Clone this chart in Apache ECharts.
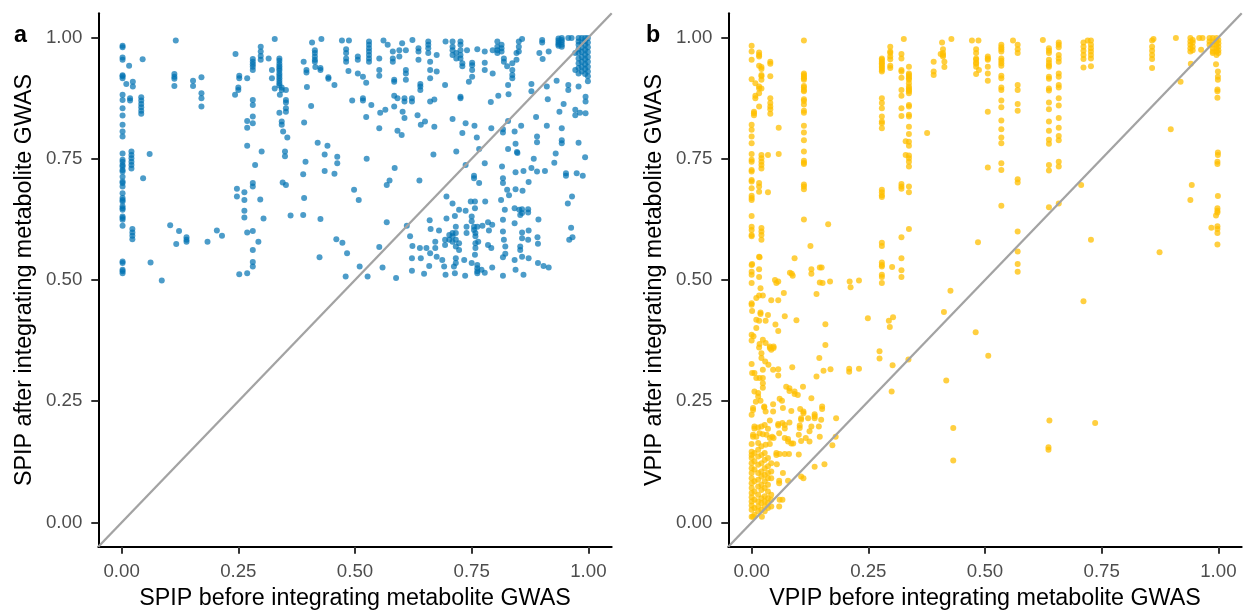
<!DOCTYPE html>
<html>
<head>
<meta charset="utf-8">
<script src="https://cdn.jsdelivr.net/npm/echarts@6/dist/echarts.min.js"></script>
<style>
html,body{margin:0;padding:0;background:#fff;}
#chart{width:1244px;height:610px;}
</style>
</head>
<body>
<div id="chart"></div>
<script>
// ---- axis setup ----
const axisRange = [-0.05, 1.05];
const tickValues = [0, 0.25, 0.5, 0.75, 1];
const tickLabels = ['0.00', '0.25', '0.50', '0.75', '1.00'];
const panelLetters = ['a', 'b'];
const xTitles = ['SPIP before integrating metabolite GWAS', 'VPIP before integrating metabolite GWAS'];
const yTitles = ['SPIP after integrating metabolite GWAS', 'VPIP after integrating metabolite GWAS'];
const diagonal = [[-0.05, -0.05], [1.05, 1.05]];

// ---- panel a: SPIP [before, after] ----
const spipZeroColumn = [
[0.002,0.983],[0.002,0.980],[0.002,0.959],[0.002,0.954],[0.002,0.922],[0.002,0.920],[0.002,0.916],[0.002,0.882],[0.002,0.871],[0.002,0.854],
[0.002,0.839],[0.002,0.820],[0.002,0.806],[0.002,0.796],[0.002,0.761],[0.002,0.748],[0.002,0.744],[0.002,0.737],[0.002,0.734],[0.002,0.727],
[0.002,0.724],[0.002,0.713],[0.002,0.703],[0.002,0.700],[0.002,0.693],[0.002,0.679],[0.002,0.669],[0.002,0.665],[0.002,0.662],[0.002,0.652],
[0.002,0.648],[0.002,0.645],[0.002,0.631],[0.002,0.628],[0.002,0.624],[0.002,0.612],[0.002,0.538],[0.002,0.535],[0.002,0.521],[0.002,0.518],[0.002,0.514]
];
const spipLeft = [
[0.010,0.904],[0.016,0.942],[0.024,0.909],[0.024,0.899],[0.018,0.875],[0.018,0.870],
[0.021,0.765],[0.021,0.758],[0.021,0.751],[0.021,0.744],[0.021,0.737],[0.021,0.730],
[0.023,0.605],[0.023,0.598],[0.023,0.591],[0.023,0.584],[0.046,0.710],
[0.042,0.877],[0.042,0.870],[0.042,0.863],[0.042,0.856],[0.042,0.849],[0.042,0.843],
[0.045,0.955],[0.060,0.760],[0.062,0.536],[0.086,0.499],
[0.116,0.994],[0.113,0.925],[0.113,0.919],[0.113,0.915],[0.113,0.900],
[0.104,0.613],[0.123,0.601],[0.117,0.574],[0.139,0.588],[0.139,0.583],[0.139,0.579],
[0.153,0.911],[0.153,0.900],[0.171,0.918],[0.171,0.885],[0.171,0.875],[0.171,0.858],
[0.184,0.579],[0.204,0.602],[0.215,0.591],
[0.244,0.966],[0.252,0.921],[0.252,0.916],[0.269,0.916],[0.250,0.897],[0.250,0.892],[0.243,0.882],
[0.281,0.871],[0.281,0.861],[0.281,0.837],[0.281,0.823],[0.269,0.828],[0.269,0.814],[0.269,0.777],
[0.300,0.765],[0.286,0.737],[0.281,0.700],[0.281,0.693],[0.247,0.688],[0.247,0.672],[0.263,0.681],[0.263,0.665],
[0.297,0.666],[0.263,0.643],[0.263,0.629],[0.304,0.627],[0.269,0.598],[0.281,0.601],[0.293,0.579],[0.281,0.562],
[0.281,0.537],[0.281,0.528],[0.269,0.514],[0.252,0.512],
[0.281,0.956],[0.281,0.950],[0.281,0.945],[0.281,0.940],[0.281,0.933],
[0.298,0.981],[0.298,0.971],[0.298,0.962],[0.298,0.954],[0.315,0.957],[0.328,0.997],[0.322,0.933],[0.322,0.916],[0.328,0.895],
[0.338,0.957],[0.338,0.952],[0.338,0.946],[0.338,0.941],[0.338,0.936],[0.338,0.932],[0.338,0.926],[0.338,0.921],
[0.338,0.916],[0.338,0.911],[0.338,0.906],[0.338,0.901],
[0.343,0.897],[0.343,0.892],[0.352,0.892],[0.352,0.871],[0.352,0.866],[0.352,0.854],[0.352,0.847],[0.338,0.845],
[0.343,0.827],[0.343,0.820],[0.346,0.806],[0.355,0.794],[0.350,0.765],[0.350,0.755],[0.345,0.701],[0.352,0.696],
[0.362,0.633],[0.339,0.882],
[0.390,0.950],[0.396,0.933],[0.396,0.928],[0.397,0.898],[0.406,0.859],[0.391,0.825],[0.408,0.990],
[0.414,0.974],[0.414,0.968],[0.414,0.961],[0.414,0.954],[0.414,0.950],[0.415,0.939],[0.428,0.997],[0.426,0.937],
[0.426,0.933],[0.443,0.918],[0.443,0.915],[0.456,0.902],[0.472,0.994],[0.487,0.994],
[0.481,0.976],[0.481,0.968],[0.481,0.957],[0.481,0.950],[0.486,0.931],[0.420,0.783],[0.441,0.777],[0.435,0.759],
[0.462,0.754],[0.462,0.741],[0.394,0.744],[0.389,0.718],[0.435,0.725],[0.456,0.719],
[0.391,0.669],[0.389,0.634],[0.426,0.626],[0.460,0.584],[0.473,0.577],[0.483,0.555],[0.424,0.547],[0.480,0.507]
];
const spipRightTop = [
[0.506,0.961],[0.506,0.954],[0.506,0.926],[0.517,0.919],[0.524,0.907],
[0.530,0.992],[0.530,0.985],[0.530,0.978],[0.530,0.971],[0.530,0.964],[0.530,0.957],[0.530,0.950],
[0.552,0.957],[0.552,0.933],[0.552,0.921],[0.561,0.994],[0.570,0.985],[0.581,0.971],[0.581,0.957],[0.581,0.950],
[0.584,0.913],[0.584,0.909],[0.595,0.974],[0.595,0.961],[0.601,0.988],[0.609,0.974],[0.609,0.933],[0.609,0.926],
[0.609,0.913],[0.623,0.995],[0.636,0.978],[0.636,0.971],[0.636,0.954],[0.640,0.904],[0.640,0.899],[0.640,0.892],
[0.657,0.992],[0.657,0.985],[0.657,0.978],[0.657,0.968],[0.661,0.950],[0.661,0.933],[0.661,0.916],[0.675,0.964],
[0.675,0.930],[0.694,0.992],[0.693,0.902],
[0.709,0.992],[0.709,0.981],[0.709,0.974],[0.709,0.964],[0.717,0.968],[0.717,0.957],[0.726,0.992],[0.726,0.985],
[0.726,0.974],[0.726,0.964],[0.726,0.957],[0.730,0.947],[0.730,0.941],[0.740,0.974],[0.744,0.909],[0.751,0.948],
[0.751,0.943],[0.751,0.933],[0.751,0.919],[0.762,0.976],[0.778,0.971],[0.778,0.948],[0.778,0.933],[0.795,0.974],
[0.795,0.926],[0.805,0.992],[0.805,0.981],[0.805,0.974],[0.805,0.968],[0.814,0.985],[0.814,0.978],[0.814,0.971],
[0.819,0.957],[0.819,0.950],[0.826,0.941],[0.837,0.947],[0.837,0.933],[0.837,0.923],[0.837,0.916],[0.846,0.968],
[0.846,0.954],[0.851,0.992],[0.851,0.981],[0.851,0.971],[0.858,0.997],[0.878,0.904],[0.878,0.889],[0.895,0.968],
[0.901,0.995],[0.901,0.990],[0.902,0.956],[0.915,0.971],[0.911,0.899],[0.932,0.911],
[0.936,0.998],[0.936,0.994],[0.936,0.990],[0.936,0.986],[0.936,0.983],[0.943,0.999],[0.943,0.995],[0.943,0.991],
[0.943,0.985],[0.943,0.981],[0.957,0.999],[0.964,0.999],[0.972,0.968],[0.972,0.933],
[0.979,0.999],[0.979,0.992],[0.979,0.985],[0.979,0.976],[0.979,0.968],[0.979,0.957],[0.979,0.947],[0.979,0.937],[0.979,0.926],
[0.986,0.999],[0.986,0.990],[0.986,0.980],[0.986,0.970],[0.986,0.960],[0.986,0.950],[0.986,0.940],[0.986,0.930],
[0.993,0.999],[0.993,0.993],[0.993,0.985],[0.993,0.975],[0.993,0.965],[0.993,0.955],[0.993,0.945],[0.993,0.935],[0.993,0.925],
[0.999,0.999],[0.999,0.990],[0.999,0.980],[0.999,0.970],[0.999,0.960],[0.999,0.950],[0.999,0.940],[0.999,0.930],[0.999,0.920],[0.999,0.910],
[0.957,0.902],[0.957,0.892],[0.979,0.899],[0.994,0.878],[0.994,0.868],[0.994,0.844],[0.972,0.851],[0.972,0.840],
[0.982,0.845],[0.938,0.847],[0.947,0.863],[0.913,0.873]
];
const spipRightMid = [
[0.494,0.870],[0.517,0.875],[0.517,0.870],[0.535,0.861],[0.524,0.836],[0.554,0.845],[0.565,0.851],[0.552,0.813],
[0.584,0.880],[0.584,0.858],[0.591,0.875],[0.606,0.875],[0.606,0.868],[0.622,0.875],[0.622,0.868],[0.602,0.847],
[0.606,0.834],[0.634,0.840],[0.641,0.820],[0.650,0.827],[0.661,0.868],[0.670,0.872],[0.670,0.816],[0.591,0.808],
[0.600,0.799],[0.726,0.878],[0.726,0.875],[0.709,0.832],[0.737,0.823],[0.730,0.803],[0.756,0.818],[0.761,0.794],
[0.766,0.770],[0.668,0.759],[0.717,0.765],[0.525,0.750],[0.585,0.731],[0.574,0.705],[0.568,0.696],[0.638,0.705],
[0.498,0.686],[0.508,0.665],
[0.791,0.867],[0.807,0.880],[0.829,0.883],[0.828,0.902],[0.792,0.813],[0.817,0.811],[0.817,0.804],[0.828,0.828],
[0.842,0.806],[0.856,0.818],[0.844,0.781],[0.828,0.770],[0.847,0.764],[0.848,0.762],[0.888,0.836],[0.911,0.818],
[0.890,0.796],[0.890,0.784],[0.943,0.813],[0.943,0.788],[0.943,0.782],[0.979,0.783],[0.930,0.761],[0.883,0.750],
[0.927,0.742],[0.993,0.753],[0.878,0.731],[0.890,0.724],[0.907,0.725],[0.861,0.725],[0.844,0.722],[0.815,0.734],
[0.778,0.741],[0.737,0.737],[0.755,0.715],[0.755,0.710],[0.817,0.710],[0.817,0.700],[0.872,0.702],[0.952,0.720],
[0.952,0.715],[0.975,0.720],[0.988,0.715]
];
const spipRightLow = [
[0.766,0.700],[0.826,0.686],[0.844,0.687],[0.859,0.684],[0.830,0.675],[0.779,0.662],[0.813,0.665],[0.696,0.672],
[0.709,0.658],[0.748,0.662],[0.757,0.662],[0.757,0.648],[0.723,0.645],[0.737,0.643],[0.714,0.632],[0.696,0.627],
[0.660,0.623],[0.611,0.612],[0.568,0.619],[0.552,0.568],[0.662,0.605],[0.680,0.602],[0.618,0.590],[0.623,0.570],
[0.639,0.566],[0.653,0.566],[0.672,0.579],[0.672,0.566],[0.675,0.548],[0.661,0.555],[0.641,0.545],[0.622,0.545],
[0.659,0.529],[0.622,0.519],[0.648,0.513],[0.559,0.526],[0.510,0.528],[0.527,0.507],[0.588,0.504],[0.694,0.511],
[0.691,0.528],[0.687,0.541],[0.693,0.583],[0.693,0.572],[0.702,0.593],[0.702,0.583],[0.709,0.597],[0.709,0.590],
[0.709,0.579],[0.716,0.610],[0.716,0.597],[0.716,0.583],[0.716,0.569],[0.716,0.545],[0.716,0.535],[0.723,0.576],
[0.723,0.562],[0.712,0.528],[0.714,0.514],[0.734,0.541],[0.736,0.509],[0.739,0.610],[0.739,0.597],[0.750,0.631],
[0.750,0.621],[0.755,0.610],[0.755,0.603],[0.758,0.597],[0.758,0.590],[0.758,0.576],[0.758,0.566],[0.762,0.610],
[0.764,0.579],[0.750,0.535],[0.762,0.531],[0.762,0.524],[0.762,0.518],[0.762,0.514],[0.771,0.521],[0.757,0.552],
[0.773,0.612],[0.785,0.619],[0.794,0.614],[0.787,0.602],[0.785,0.572],[0.792,0.566],[0.778,0.515],[0.794,0.526],
[0.817,0.624],[0.821,0.645],[0.817,0.600],[0.819,0.583],[0.822,0.569],[0.817,0.547],[0.822,0.554],[0.817,0.509],
[0.842,0.648],[0.852,0.645],[0.858,0.646],[0.858,0.638],[0.871,0.646],[0.871,0.639],[0.854,0.634],[0.842,0.617],
[0.858,0.598],[0.858,0.586],[0.872,0.602],[0.871,0.583],[0.854,0.569],[0.854,0.562],[0.858,0.548],[0.872,0.545],
[0.842,0.541],[0.844,0.521],[0.861,0.511],[0.891,0.588],[0.893,0.625],[0.892,0.575],[0.892,0.535],[0.904,0.529],
[0.915,0.526],[0.956,0.658],[0.965,0.672],[0.963,0.608],[0.966,0.588],[0.959,0.583]
];

// ---- panel b: VPIP [before, after] ----
const vpipLeftTop = [
[0.000,0.983],[0.000,0.971],[0.000,0.954],[0.000,0.914],[0.000,0.820],[0.000,0.810],[0.000,0.796],[0.000,0.782],
[0.000,0.760],[0.000,0.748],[0.000,0.744],[0.000,0.727],[0.000,0.724],[0.000,0.706],[0.000,0.703],[0.000,0.689],
[0.000,0.674],[0.000,0.669],[0.000,0.665],[0.000,0.632],[0.000,0.610],[0.000,0.603],[0.000,0.593],[0.000,0.590],
[0.000,0.531],[0.000,0.517],[0.000,0.511],[0.000,0.494],
[0.016,0.969],[0.016,0.964],[0.016,0.961],[0.016,0.942],[0.016,0.899],[0.016,0.895],[0.016,0.885],[0.016,0.858],
[0.016,0.700],[0.016,0.693],[0.016,0.682],[0.016,0.548],[0.016,0.522],[0.016,0.506],
[0.021,0.939],[0.021,0.935],[0.021,0.923],[0.021,0.920],[0.021,0.913],[0.021,0.895],[0.021,0.758],[0.021,0.751],
[0.021,0.744],[0.021,0.737],[0.021,0.730],[0.021,0.607],[0.021,0.600],[0.021,0.593],[0.021,0.583],
[0.008,0.906],[0.008,0.880],[0.008,0.875],[0.005,0.847],[0.005,0.844],[0.005,0.840],
[0.040,0.950],[0.040,0.946],[0.040,0.920],[0.040,0.875],[0.040,0.865],[0.040,0.858],[0.040,0.852],[0.040,0.843],
[0.035,0.758],[0.035,0.681],[0.058,0.814],[0.058,0.760],[0.001,0.533],[0.017,0.547],
[0.112,0.994],[0.112,0.926],[0.112,0.923],[0.112,0.919],[0.112,0.916],[0.112,0.913],[0.112,0.900],[0.112,0.897],
[0.112,0.892],[0.112,0.889],[0.112,0.873],[0.112,0.869],[0.112,0.862],[0.112,0.849],[0.112,0.845],[0.112,0.818],
[0.112,0.804],[0.112,0.788],[0.112,0.765],[0.112,0.746],[0.112,0.742],[0.112,0.739],[0.112,0.697],[0.112,0.693],
[0.112,0.687],[0.112,0.625],
[0.164,0.615],[0.126,0.570],[0.092,0.545],[0.146,0.526],[0.150,0.526],[0.128,0.522],[0.128,0.513],[0.082,0.515],
[0.086,0.513],[0.088,0.509],[0.050,0.500],[0.057,0.497],[0.053,0.494],[0.146,0.495],[0.152,0.494],[0.168,0.497],
[0.210,0.497],[0.230,0.499]
];
const vpipMidTop = [
[0.279,0.957],[0.279,0.954],[0.279,0.950],[0.279,0.947],[0.279,0.944],[0.279,0.940],[0.279,0.937],[0.279,0.933],
[0.279,0.930],[0.279,0.875],[0.279,0.865],[0.279,0.854],[0.279,0.837],[0.279,0.827],[0.279,0.823],[0.279,0.813],
[0.279,0.686],[0.279,0.681],[0.279,0.675],[0.279,0.671],[0.279,0.577],[0.279,0.570],[0.279,0.536],[0.279,0.531],
[0.279,0.528],[0.279,0.511],[0.279,0.506],[0.279,0.494],
[0.297,0.981],[0.297,0.971],[0.297,0.968],[0.297,0.961],[0.297,0.955],[0.297,0.942],[0.297,0.937],[0.301,0.527],
[0.321,0.966],[0.321,0.957],[0.321,0.933],[0.321,0.930],[0.321,0.917],[0.321,0.892],[0.321,0.880],[0.321,0.854],
[0.321,0.838],[0.321,0.698],[0.321,0.693],[0.321,0.688],[0.321,0.588],[0.321,0.545],[0.321,0.520],[0.321,0.506],
[0.326,0.997],
[0.337,0.940],[0.337,0.926],[0.337,0.923],[0.337,0.919],[0.337,0.916],[0.337,0.913],[0.337,0.906],[0.337,0.899],
[0.337,0.895],[0.337,0.892],[0.337,0.889],[0.337,0.885],[0.337,0.861],[0.337,0.858],[0.337,0.841],[0.337,0.837],
[0.337,0.816],[0.337,0.801],[0.337,0.785],[0.337,0.777],[0.337,0.757],[0.337,0.751],[0.337,0.744],[0.337,0.734],
[0.337,0.693],[0.337,0.681],[0.337,0.605],
[0.330,0.786],[0.330,0.758],[0.376,0.803],[0.390,0.950],[0.390,0.930],[0.390,0.923],[0.408,0.990],[0.410,0.976],
[0.410,0.968],[0.410,0.964],[0.410,0.961],[0.413,0.950],[0.413,0.939],[0.405,0.966],[0.428,0.997],[0.472,0.994],
[0.486,0.994],[0.481,0.976],[0.481,0.968],[0.481,0.957],[0.481,0.954],[0.481,0.948],[0.481,0.946],[0.481,0.940],
[0.481,0.925],[0.487,0.933],[0.485,0.578]
];
const vpipRightTop = [
[0.506,0.961],[0.506,0.957],[0.506,0.954],[0.506,0.940],[0.506,0.926],[0.506,0.911],[0.506,0.847],[0.506,0.732],
[0.535,0.985],[0.535,0.980],[0.535,0.976],[0.535,0.971],[0.535,0.957],[0.535,0.952],[0.535,0.947],[0.535,0.942],
[0.535,0.921],[0.535,0.916],[0.535,0.897],[0.535,0.892],[0.535,0.870],[0.535,0.856],[0.535,0.829],[0.535,0.811],
[0.535,0.794],[0.535,0.782],[0.535,0.741],[0.535,0.727],[0.535,0.653],
[0.560,0.994],
[0.570,0.985],[0.570,0.976],[0.570,0.968],[0.570,0.902],[0.570,0.892],[0.570,0.863],[0.570,0.849],[0.570,0.708],
[0.570,0.701],[0.570,0.600],[0.570,0.559],[0.570,0.533],[0.570,0.517],
[0.624,0.995],
[0.637,0.978],[0.637,0.973],[0.637,0.968],[0.637,0.954],[0.637,0.948],[0.637,0.943],[0.637,0.940],[0.637,0.919],
[0.637,0.915],[0.637,0.895],[0.637,0.891],[0.637,0.866],[0.637,0.852],[0.637,0.827],[0.637,0.808],[0.637,0.789],
[0.637,0.781],[0.637,0.737],[0.637,0.726],[0.637,0.650],
[0.658,0.990],[0.658,0.985],[0.658,0.980],[0.658,0.964],[0.658,0.957],[0.658,0.950],[0.658,0.926],[0.658,0.919],
[0.658,0.902],[0.658,0.897],[0.658,0.875],[0.658,0.860],[0.658,0.834],[0.658,0.814],[0.658,0.797],[0.658,0.788],
[0.658,0.744],[0.658,0.734],[0.658,0.658],
[0.711,0.990],[0.711,0.981],[0.711,0.973],[0.711,0.964],[0.711,0.956],[0.711,0.938],[0.720,0.994],
[0.727,0.994],[0.727,0.985],[0.727,0.978],[0.727,0.971],[0.727,0.964],[0.727,0.957],[0.727,0.941],
[0.706,0.696],[0.727,0.583],
[0.858,0.994],[0.858,0.981],[0.858,0.973],[0.858,0.964],[0.858,0.956],[0.858,0.937],
[0.861,0.997],[0.909,0.999],[0.898,0.811],[0.874,0.557],[0.919,0.909],
[0.940,0.999],[0.940,0.992],[0.940,0.985],[0.940,0.978],[0.940,0.971],[0.945,0.995],[0.945,0.990],[0.945,0.981],
[0.945,0.974],[0.941,0.946],[0.959,0.999],[0.966,0.999],[0.963,0.975],
[0.981,0.999],[0.981,0.992],[0.981,0.985],[0.988,0.999],[0.988,0.992],[0.988,0.985],[0.988,0.978],[0.988,0.971],
[0.988,0.968],[0.996,0.999],[0.996,0.992],[0.996,0.985],[0.996,0.978],[0.996,0.971],[0.996,0.964],[1.000,0.995],
[1.000,0.988],[1.000,0.981],[1.000,0.974],[1.000,0.968],
[0.995,0.945],[0.999,0.930],[0.999,0.919],[0.999,0.913],[0.998,0.893],[0.998,0.889],[0.998,0.876],[0.999,0.763],
[0.999,0.758],[0.998,0.744],[0.998,0.739],[0.999,0.673],[0.998,0.648],[0.998,0.643],[0.998,0.639],[0.995,0.633],
[0.985,0.608],[0.998,0.611],[0.998,0.605],[0.998,0.597],[0.998,0.573],[0.943,0.696],[0.940,0.665]
];
const vpipLowSparse = [
[0.711,0.456],[0.507,0.344],[0.638,0.210],[0.736,0.205],[0.636,0.155],[0.636,0.150],
[0.019,0.483],[0.069,0.473],[0.016,0.468],[0.024,0.468],[0.010,0.463],[0.042,0.458],[0.057,0.458],[0.000,0.452],
[0.000,0.449],[0.001,0.436],[0.019,0.433],[0.019,0.430],[0.035,0.428],[0.071,0.425],[0.096,0.417],[0.139,0.471],
[0.212,0.485],[0.426,0.478],[0.412,0.434],[0.249,0.421],[0.294,0.416],[0.303,0.423],[0.296,0.403],[0.158,0.409],
[0.480,0.392],[0.417,0.293],[0.300,0.270],[0.336,0.336],[0.302,0.324],[0.274,0.353],[0.274,0.338],[0.158,0.366],
[0.145,0.339],[0.230,0.317],[0.209,0.317],[0.209,0.311],[0.169,0.316],[0.154,0.313],[0.139,0.301],[0.432,0.195],
[0.432,0.128]
];
const vpipLowCluster = [
[0.000,0.387],[0.000,0.375],[0.004,0.384],[0.010,0.418],[0.010,0.401],[0.016,0.416],[0.030,0.416],[0.051,0.408],
[0.057,0.395],[0.024,0.377],[0.030,0.370],[0.017,0.368],[0.016,0.361],[0.039,0.363],[0.039,0.360],[0.047,0.363],
[0.047,0.360],[0.042,0.356],[0.021,0.349],[0.021,0.339],[0.029,0.332],[0.036,0.325],[0.000,0.327],[0.001,0.308],
[0.006,0.308],[0.010,0.298],[0.017,0.298],[0.024,0.315],[0.024,0.298],[0.046,0.315],[0.057,0.316],[0.057,0.303],
[0.087,0.320],
[0.024,0.287],[0.024,0.278],[0.006,0.270],[0.014,0.267],[0.014,0.260],[0.009,0.249],[0.019,0.251],[0.027,0.239],
[0.027,0.237],[0.046,0.244],[0.003,0.236],[0.003,0.232],[0.000,0.222],[0.030,0.229],[0.039,0.210],[0.046,0.229],
[0.067,0.236],[0.060,0.255],[0.065,0.251],[0.074,0.280],[0.081,0.277],[0.081,0.271],[0.092,0.270],[0.092,0.265],
[0.099,0.263],[0.110,0.280],[0.128,0.256],[0.085,0.230],[0.104,0.234],[0.111,0.229],[0.111,0.225],[0.106,0.215],
[0.106,0.212],[0.121,0.215],[0.135,0.223],[0.135,0.219],[0.135,0.215],[0.151,0.239],[0.151,0.234],[0.149,0.212],
[0.144,0.198],[0.181,0.215],[0.128,0.198],[0.124,0.188],[0.103,0.200],[0.103,0.195],[0.101,0.181],[0.116,0.174],
[0.106,0.168],[0.124,0.167],[0.146,0.177],[0.180,0.177],[0.173,0.159],[0.057,0.203],[0.057,0.200],[0.066,0.205],
[0.071,0.201],[0.071,0.194],[0.081,0.206],[0.059,0.184],[0.071,0.174],[0.078,0.172],[0.078,0.167],[0.085,0.163],
[0.089,0.163],[0.044,0.177],[0.006,0.198],[0.006,0.194],[0.014,0.196],[0.021,0.198],[0.028,0.201],[0.035,0.193],
[0.003,0.181],[0.003,0.177],[0.010,0.177],[0.017,0.184],[0.024,0.182],[0.032,0.181],[0.039,0.174],[0.047,0.174],
[0.000,0.162],[0.014,0.164],[0.021,0.157],[0.030,0.160],[0.039,0.162]
];
const vpipDenseCorner = [
[0.000,0.146],[0.000,0.139],[0.000,0.133],[0.000,0.122],[0.000,0.112],[0.000,0.102],[0.000,0.091],[0.000,0.081],
[0.000,0.071],[0.000,0.061],[0.000,0.052],[0.000,0.043],[0.000,0.035],[0.000,0.026],[0.000,0.012],
[0.006,0.143],[0.006,0.126],[0.006,0.109],[0.006,0.085],[0.006,0.064],[0.006,0.047],[0.006,0.030],[0.006,0.016],
[0.014,0.150],[0.014,0.136],[0.014,0.119],[0.014,0.102],[0.014,0.088],[0.014,0.074],[0.014,0.057],[0.014,0.043],
[0.014,0.033],[0.014,0.023],
[0.021,0.139],[0.021,0.122],[0.021,0.105],[0.021,0.095],[0.021,0.078],[0.021,0.067],[0.021,0.050],[0.021,0.040],[0.021,0.026],
[0.028,0.143],[0.028,0.129],[0.028,0.112],[0.028,0.098],[0.028,0.085],[0.028,0.071],[0.028,0.054],[0.028,0.043],
[0.028,0.033],[0.028,0.023],
[0.035,0.133],[0.035,0.116],[0.035,0.102],[0.035,0.091],[0.035,0.078],[0.035,0.064],[0.035,0.050],[0.035,0.040],[0.035,0.030],
[0.042,0.122],[0.042,0.105],[0.042,0.091],[0.042,0.057],[0.042,0.047],[0.042,0.033],
[0.053,0.143],[0.053,0.139],[0.060,0.141],[0.071,0.141],[0.080,0.141],[0.054,0.120],[0.067,0.102],[0.059,0.086],
[0.059,0.081],[0.078,0.086],[0.101,0.140],[0.106,0.095],[0.111,0.091],[0.135,0.115],[0.156,0.120],[0.060,0.047],
[0.066,0.047],[0.059,0.033],[0.022,0.012],[0.003,0.012]
];

const spipPoints = [].concat(spipZeroColumn, spipLeft, spipRightTop, spipRightMid, spipRightLow);
const vpipPoints = [].concat(vpipLeftTop, vpipMidTop, vpipRightTop, vpipLowSparse, vpipLowCluster, vpipDenseCorner);

// ---- styling ----
const FONT = '"Liberation Sans", Arial, Helvetica, sans-serif';
const gridA = {left: 98.3, top: 13.3, width: 513.4, height: 533.4, containLabel: false, outerBoundsMode: 'none'};
const gridB = {left: 728.3, top: 13.3, width: 513.4, height: 533.4, containLabel: false, outerBoundsMode: 'none'};

function makeAxis(gridIndex, title, isY) {
  return {
    type: 'value', gridIndex: gridIndex,
    min: axisRange[0], max: axisRange[1],
    name: title, nameLocation: 'middle',
    nameGap: isY ? 62 : 39,
    nameTextStyle: {fontFamily: FONT, fontSize: 23.3, color: '#000'},
    axisLine: {show: true, onZero: false, lineStyle: {color: '#000', width: 2}},
    axisTick: {show: true, length: 7, customValues: tickValues, lineStyle: {color: '#333', width: 2}},
    axisLabel: {
      show: true, margin: 16, customValues: tickValues,
      fontFamily: FONT, fontSize: 18.7, color: '#4D4D4D',
      formatter: function (v) {
        const i = tickValues.findIndex(t => Math.abs(t - v) < 1e-9);
        return i >= 0 ? tickLabels[i] : '';
      }
    },
    splitLine: {show: false}
  };
}

const chart = echarts.init(document.getElementById('chart'), null, {renderer: 'canvas'});
chart.setOption({
  animation: false,
  backgroundColor: '#ffffff',
  grid: [gridA, gridB],
  xAxis: [makeAxis(0, xTitles[0], false), makeAxis(1, xTitles[1], false)],
  yAxis: [makeAxis(0, yTitles[0], true), makeAxis(1, yTitles[1], true)],
  title: [
    {text: panelLetters[0], left: 9, top: 19, textStyle: {fontFamily: FONT, fontSize: 23.3, fontWeight: 'bold', color: '#000'}},
    {text: panelLetters[1], left: 641, top: 19, textStyle: {fontFamily: FONT, fontSize: 23.3, fontWeight: 'bold', color: '#000'}}
  ],
  series: [
    {type: 'line', xAxisIndex: 0, yAxisIndex: 0, data: diagonal, symbol: 'none', silent: true,
     lineStyle: {color: '#A3A3A3', width: 2.3}, z: 3},
    {type: 'line', xAxisIndex: 1, yAxisIndex: 1, data: diagonal, symbol: 'none', silent: true,
     lineStyle: {color: '#A3A3A3', width: 2.3}, z: 3},
    {type: 'scatter', xAxisIndex: 0, yAxisIndex: 0, data: spipPoints, symbolSize: 6,
     itemStyle: {color: '#0072B2', opacity: 0.7}, z: 2},
    {type: 'scatter', xAxisIndex: 1, yAxisIndex: 1, data: vpipPoints, symbolSize: 6,
     itemStyle: {color: '#FFBF00', opacity: 0.75}, z: 2}
  ]
});
</script>
</body>
</html>
